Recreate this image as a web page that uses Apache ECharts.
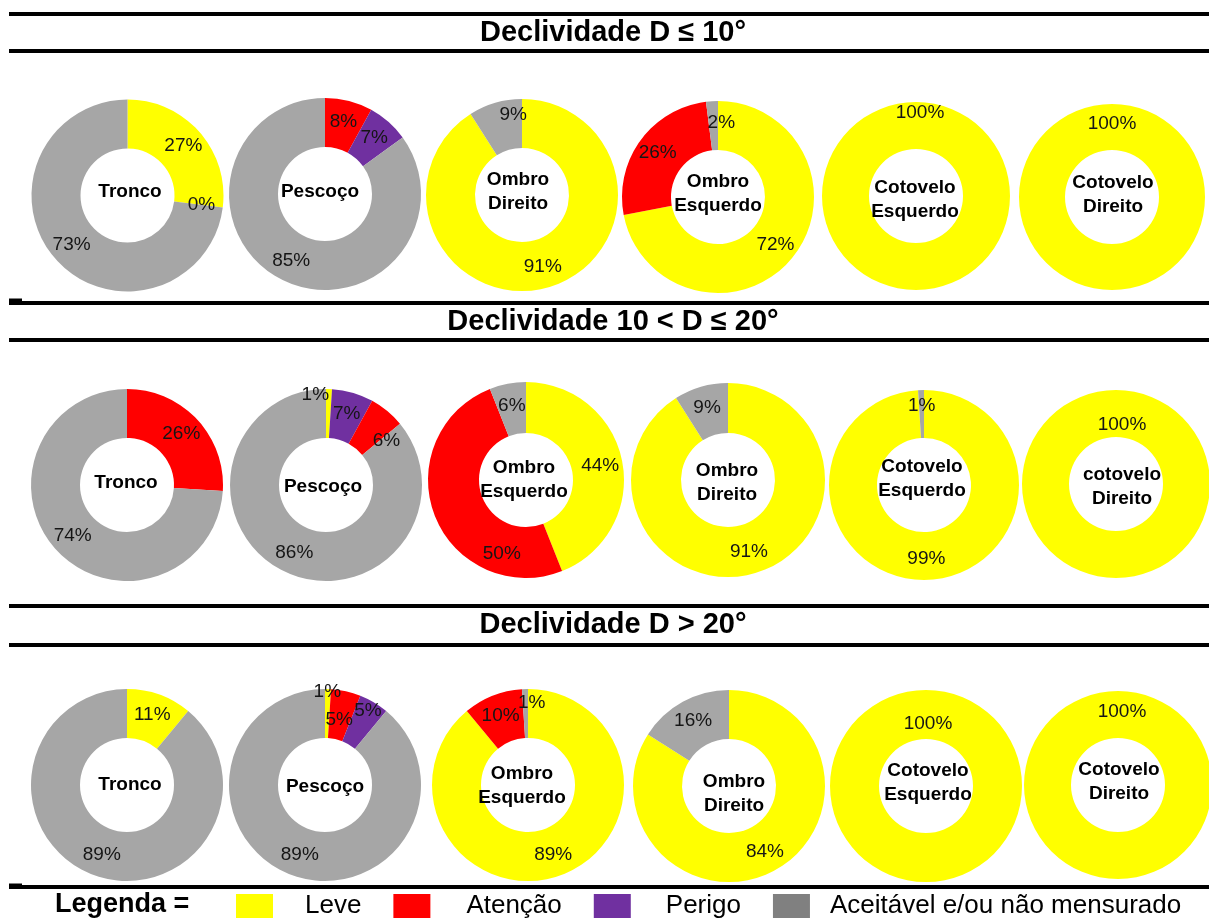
<!DOCTYPE html>
<html><head><meta charset="utf-8">
<script src="https://cdn.jsdelivr.net/npm/echarts@6/dist/echarts.min.js"></script>
<style>html,body{margin:0;padding:0;background:#fff}#c{width:1209px;height:918px}</style>
</head><body><div id="c"></div>
<script>
// ---------- DATA ----------
const categories = ['Leve', 'Atenção', 'Perigo', 'Aceitável e/ou não mensurado'];
const rowTitles = ['Declividade D ≤ 10°', 'Declividade 10 < D ≤ 20°', 'Declividade D > 20°'];
const row1Parts = ['Tronco', 'Pescoço', 'Ombro\nDireito', 'Ombro\nEsquerdo', 'Cotovelo\nEsquerdo', 'Cotovelo\nDireito'];
const row2Parts = ['Tronco', 'Pescoço', 'Ombro\nEsquerdo', 'Ombro\nDireito', 'Cotovelo\nEsquerdo', 'cotovelo\nDireito'];
const row3Parts = ['Tronco', 'Pescoço', 'Ombro\nEsquerdo', 'Ombro\nDireito', 'Cotovelo\nEsquerdo', 'Cotovelo\nDireito'];
// slices in drawing order (clockwise from 12 o'clock): [category index, percent]
const row1Slices = [
  [[0, 27], [1, 0], [3, 73]],
  [[1, 8], [2, 7], [3, 85]],
  [[0, 91], [3, 9]],
  [[0, 72], [1, 26], [3, 2]],
  [[0, 100]],
  [[0, 100]]
];
const row2Slices = [
  [[1, 26], [3, 74]],
  [[0, 1], [2, 7], [1, 6], [3, 86]],
  [[0, 44], [1, 50], [3, 6]],
  [[0, 91], [3, 9]],
  [[0, 99], [3, 1]],
  [[0, 100]]
];
const row3Slices = [
  [[0, 11], [3, 89]],
  [[0, 1], [1, 5], [2, 5], [3, 89]],
  [[0, 89], [1, 10], [3, 1]],
  [[0, 84], [3, 16]],
  [[0, 100]],
  [[0, 100]]
];
const legendLabel = 'Legenda =';

// ---------- STYLE / LAYOUT ----------
const FONT = '"Liberation Sans", Arial, Helvetica, sans-serif';
const sliceColors = ['#FFFF00', '#FF0000', '#7030A0', '#A6A6A6'];
const legendColors = ['#FFFF00', '#FF0000', '#7030A0', '#808080'];
const donutCenters = [
  [[127.5, 195.5], [325, 194], [522, 195], [718, 197], [916, 196], [1112, 197]],
  [[127, 485], [326, 485], [526, 480], [728, 480], [924, 485], [1116, 484]],
  [[127, 785], [325, 785], [528, 785], [729, 786], [926, 786], [1118, 785]]
];
const outerR = [[96, 96, 96, 96, 94, 93], [96, 96, 98, 97, 95, 94], [96, 96, 96, 96, 96, 94]];
const innerR = 47;
const partTextPos = [
  [[130, 192], [320, 192], [518, 192], [718, 193.5], [915, 199.5], [1113, 195]],
  [[126, 483], [323, 487], [524, 479.5], [727, 483], [922, 478.5], [1122, 486.5]],
  [[130, 785], [325, 787], [522, 785.5], [734, 793.5], [928, 783], [1119, 782]]
];
const labelNudges = {
  '0-2-1': [12, -9], '0-3-2': [8, 0], '0-4-0': [4, -10],
  '1-1-0': [-13, -16], '1-1-2': [13, 13], '1-2-1': [46, 46], '1-4-1': [0, -5], '1-5-0': [6, 14],
  '2-1-0': [0, -19], '2-1-1': [-2, 7], '2-1-2': [5, -10], '2-2-2': [6, -8], '2-4-0': [2, 12], '2-5-0': [4, 0]
};
const titleY = [33, 322, 625];
const ruleYs = [12, 49, 301, 338, 604, 643, 885];
const stubYs = [298.5, 883.5];

const rows = [
  { parts: row1Parts, slices: row1Slices },
  { parts: row2Parts, slices: row2Slices },
  { parts: row3Parts, slices: row3Slices }
];

const series = [];
const graphic = [];

rows.forEach((row, r) => {
  row.slices.forEach((sl, c) => {
    series.push({
      type: 'pie',
      center: donutCenters[r][c],
      radius: [innerR, outerR[r][c]],
      startAngle: sl.length === 1 ? 270 : 90,
      clockwise: true,
      avoidLabelOverlap: false,
      animation: false,
      silent: true,
      itemStyle: { borderWidth: 0 },
      label: {
        show: true, position: 'inside', formatter: '{c}%',
        color: '#151515', fontSize: 19, fontFamily: FONT, fontWeight: 'normal'
      },
      labelLine: { show: false },
      emphasis: { disabled: true },
      labelLayout: (function (rr, cc) {
        return function (p) {
          const n = labelNudges[rr + '-' + cc + '-' + p.dataIndex];
          return n ? { dx: n[0], dy: n[1] } : {};
        };
      })(r, c),
      data: sl.map(s => ({ name: categories[s[0]], value: s[1], itemStyle: { color: sliceColors[s[0]] } }))
    });
    graphic.push({
      type: 'text', z: 100,
      style: {
        text: row.parts[c], x: partTextPos[r][c][0], y: partTextPos[r][c][1],
        align: 'center', verticalAlign: 'middle', lineHeight: 24,
        fontSize: 19, fontWeight: 'bold', fontFamily: FONT, fill: '#000'
      }
    });
  });
  graphic.push({
    type: 'text', z: 100,
    style: {
      text: rowTitles[r], x: 613, y: titleY[r], align: 'center', verticalAlign: 'middle',
      fontSize: 29, fontWeight: 'bold', fontFamily: FONT, fill: '#000'
    }
  });
});

ruleYs.forEach(y => graphic.push({ type: 'rect', z: 100, shape: { x: 9, y: y, width: 1200, height: 4 }, style: { fill: '#000' } }));
stubYs.forEach(y => graphic.push({ type: 'rect', z: 100, shape: { x: 9, y: y, width: 13, height: 3 }, style: { fill: '#000' } }));
graphic.push({
  type: 'text', z: 100,
  style: { text: legendLabel, x: 55, y: 905, align: 'left', verticalAlign: 'middle',
    fontSize: 27, fontWeight: 'bold', fontFamily: FONT, fill: '#000' }
});

const legendPad = [27, 31, 30, 15];
const rich = {};
legendPad.forEach((p, i) => { rich['l' + i] = { padding: [0, 0, 0, p], fontSize: 26, fontFamily: FONT, color: '#000', lineHeight: 24 }; });

const chart = echarts.init(document.getElementById('c'), null, { renderer: 'canvas' });
chart.setOption({
  backgroundColor: '#fff',
  animation: false,
  legend: {
    show: true, left: 236, top: 893, padding: 0, orient: 'horizontal',
    itemGap: 32, itemWidth: 37, itemHeight: 24, icon: 'rect', selectedMode: false,
    data: categories.map((n, i) => ({ name: n, itemStyle: { color: legendColors[i] } })),
    formatter: name => '{l' + categories.indexOf(name) + '|' + name + '}',
    textStyle: { fontSize: 26, fontFamily: FONT, color: '#000', rich: rich }
  },
  tooltip: { show: false },
  series: series,
  graphic: graphic
});
</script>
</body></html>
